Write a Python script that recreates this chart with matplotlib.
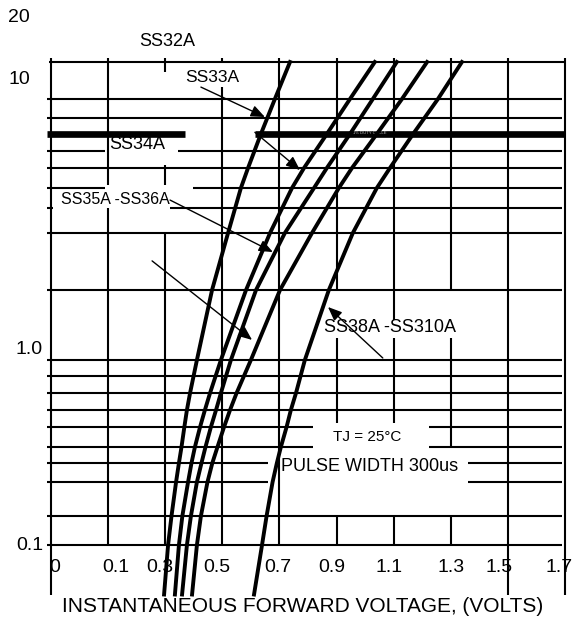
import numpy as np
import matplotlib
matplotlib.use("Agg")
import matplotlib.pyplot as plt
from matplotlib.transforms import ScaledTranslation

plt.rcParams['font.family'] = ['Liberation Sans', 'DejaVu Sans']

# --- DATA ---
amps = [0.054, 0.1, 0.2, 0.3, 0.4, 0.5, 0.6, 0.7, 0.8, 1.0, 2, 3, 5, 6, 8, 10, 20]
v_ss32a = [0.296, 0.310, 0.322, 0.338, 0.348, 0.357, 0.367, 0.376, 0.387, 0.411, 0.464, 0.520, 0.565, 0.590, 0.635, 0.684, 0.737]
v_ss33a = [0.334, 0.348, 0.360, 0.380, 0.392, 0.404, 0.422, 0.439, 0.457, 0.495, 0.583, 0.667, 0.744, 0.786, 0.866, 0.947, 1.034]
v_ss34a = [0.359, 0.376, 0.390, 0.411, 0.427, 0.441, 0.460, 0.478, 0.495, 0.530, 0.618, 0.719, 0.821, 0.866, 0.947, 1.027, 1.111]
v_ss35a = [0.394, 0.411, 0.425, 0.448, 0.465, 0.483, 0.506, 0.527, 0.550, 0.600, 0.702, 0.814, 0.908, 0.954, 1.041, 1.129, 1.217]
v_ss38a = [0.611, 0.639, 0.655, 0.676, 0.691, 0.705, 0.725, 0.740, 0.758, 0.789, 0.873, 0.957, 1.041, 1.087, 1.168, 1.255, 1.339]

x_ticks = [-0.1, 0.1, 0.3, 0.5, 0.7, 0.9, 1.1, 1.3, 1.5, 1.7]
x_tick_labels = ['0', '0.1', '0.3', '0.5', '0.7', '0.9', '1.1', '1.3', '1.5', '1.7']
y_ticks = [0.1, 1.0, 10, 20]
y_tick_labels = ['0.1', '1.0', '10', '20']

# --- the printed log axis is not evenly spaced, so warp it to match ---
anchor_amps = np.array([0.01, 0.1, 0.2, 0.3, 0.4, 0.5, 0.6, 0.7, 0.8, 0.9, 1,
                        2, 3, 4, 5, 6, 7, 8, 9, 10, 20, 200])
anchor_rows = np.array([730, 545, 516, 482, 463, 447, 427, 410, 393, 376, 360,
                        290, 233, 208, 188, 168, 151, 134, 118, 99, 62, -123], float)
log_anchor = np.log10(anchor_amps)

def fwd(v):
    v = np.clip(np.asarray(v, float), 1e-6, None)
    return np.interp(np.log10(v), log_anchor, -anchor_rows)

def inv(t):
    return 10 ** np.interp(np.asarray(t, float), -anchor_rows, log_anchor)

# grid as drawn on the sheet (with the gaps left for the labels)
XL, XR = -0.114, 1.689
h_grid = {
    0.1: [(XL, XR)], 0.2: [(XL, XR)],
    0.3: [(XL, 0.66), (1.36, XR)], 0.4: [(XL, 0.66), (1.36, XR)],
    0.5: [(XL, 0.817), (1.224, XR)], 0.6: [(XL, 0.817), (1.224, XR)],
    0.7: [(XL, XR)], 0.8: [(XL, XR)], 0.9: [(XL, XR)], 1: [(XL, XR)],
    2: [(XL, XR)], 3: [(XL, XR)],
    4: [(XL, -0.093), (0.317, XR)],
    5: [(XL, 0.089), (0.397, XR)],
    6: [(XL, XR)],
    7: [(XL, 0.089), (0.345, XR)],
    9: [(XL, XR)], 10: [(XL, XR)],
    20: [(-0.107, 1.70)],
}
thick_line = {8: [(XL, 0.369), (0.614, 1.70)]}
v_grid = {
    -0.1: [(0.054, 21)],
    0.1: [(0.1, 4.0), (5.14, 21)],
    0.3: [(0.1, 3.0), (5.14, 6.16), (16.6, 21)],
    0.5: [(0.1, 12.5), (20, 21)],
    0.7: [(0.1, 21)],
    0.9: [(0.1, 0.2), (0.622, 1.24), (2.0, 21)],
    1.1: [(0.1, 0.2), (0.622, 1.24), (1.49, 21)],
    1.3: [(0.1, 0.2), (0.5, 1.24), (2.0, 21)],
    1.5: [(0.054, 21)],
    1.7: [(0.054, 21)],
}

fig = plt.figure(figsize=(5.75, 6.2), dpi=100)
ax = fig.add_axes([51 / 575, 75 / 620, 514 / 575, 483 / 620])
ax.set_yscale('function', functions=(fwd, inv))
ax.set_xlim(-0.1, 1.7)
ax.set_ylim(0.1, 20)
for s in ax.spines.values():
    s.set_visible(False)

for yv, segs in h_grid.items():
    for x0, x1 in segs:
        ax.plot([x0, x1], [yv, yv], color='k', lw=1.5, clip_on=False, zorder=1,
                solid_capstyle='butt')
for yv, segs in thick_line.items():
    for x0, x1 in segs:
        ax.plot([x0, x1], [yv, yv], color='k', lw=4.8, clip_on=False, zorder=1,
                solid_capstyle='butt')
for xv, segs in v_grid.items():
    for y0, y1 in segs:
        ax.plot([xv, xv], [y0, y1], color='k', lw=1.5, clip_on=False, zorder=1,
                solid_capstyle='butt')

for v in [v_ss32a, v_ss33a, v_ss34a, v_ss35a, v_ss38a]:
    ax.plot(v, amps, color='k', lw=2.8, clip_on=False, zorder=3,
            solid_joinstyle='round')

# labels + arrows
arrow = dict(arrowstyle='-|>,head_length=0.6,head_width=0.25', color='k', lw=1.0,
             mutation_scale=14, shrinkA=0, shrinkB=0)
ax.annotate('', xy=(0.649, 9.05), xytext=(0.425, 12.5), arrowprops=arrow, zorder=4)
ax.annotate('', xy=(0.772, 5.89), xytext=(0.614, 8.1), arrowprops=arrow, zorder=4)
ax.annotate('', xy=(0.677, 2.62), xytext=(0.317, 4.37), arrowprops=arrow, zorder=4)
ax.annotate('', xy=(0.604, 1.22), xytext=(0.254, 2.46), arrowprops=arrow, zorder=4)
ax.annotate('', xy=(0.870, 1.69), xytext=(1.062, 1.02), arrowprops=arrow, zorder=4)

txt = dict(ha='center', va='center', color='k', zorder=2)
ax.text(0.306, 25.7, 'SS32A', fontsize=13, **txt)
ax.text(0.464, 15.1, 'SS33A', fontsize=12.5, **txt)
ax.text(0.201, 7.34, 'SS34A', fontsize=13, **txt)
ax.text(0.124, 4.42, 'SS35A -SS36A', fontsize=11.5, **txt)
ax.text(1.087, 1.386, 'SS38A -SS310A', fontsize=13, **txt)
ax.text(1.006, 0.548, 'TJ = 25°C', fontsize=11, **txt)
ax.text(1.017, 0.377, 'PULSE WIDTH 300us', fontsize=13, **txt)
ax.text(1.017, 8.05, '1% DUTY CYCLE', fontsize=3, ha='center', va='center',
        color='#bbbbbb', zorder=2)

fig.text(303 / 575, 1 - 607 / 620, 'INSTANTANEOUS FORWARD VOLTAGE, (VOLTS)',
         ha='center', va='center', fontsize=15)

ax.set_xticks(x_ticks)
ax.set_xticklabels(x_tick_labels, fontsize=14)
ax.set_yticks(y_ticks)
ax.set_yticklabels(y_tick_labels, fontsize=14)
ax.tick_params(axis='x', length=0, pad=10)
ax.tick_params(axis='y', length=0, pad=5.8)
ax.minorticks_off()

fig.canvas.draw()
# nudge the tick labels to where the sheet prints them (pixels)
x_shift = [4, 8, -5, -6, -2, -5, -5, 0, -9, -6]
y_shift = [(0, 2), (0, 13), (-13, 22), (-13, 47)]
for lab, dx in zip(ax.get_xticklabels(), x_shift):
    lab.set_transform(lab.get_transform() + ScaledTranslation(dx / 100, 0, fig.dpi_scale_trans))
for lab, (dx, dy) in zip(ax.get_yticklabels(), y_shift):
    lab.set_transform(lab.get_transform() + ScaledTranslation(dx / 100, dy / 100, fig.dpi_scale_trans))

fig.savefig('out.png', dpi=100)
